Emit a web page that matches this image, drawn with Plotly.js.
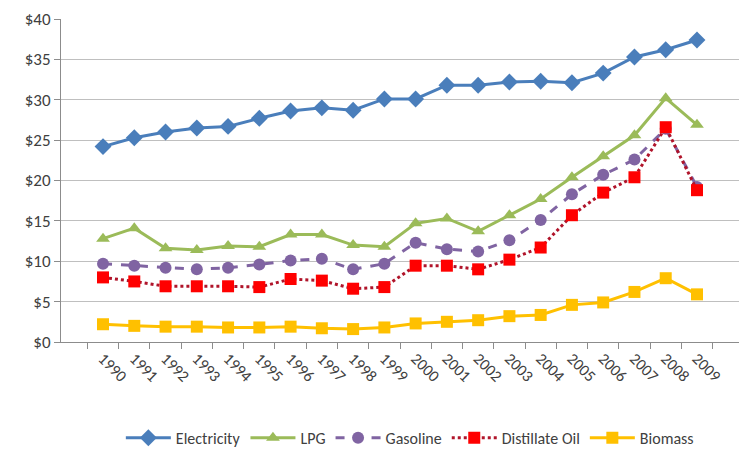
<!DOCTYPE html>
<html>
<head>
<meta charset="utf-8">
<script src="https://cdn.plot.ly/plotly-3.0.1.min.js"></script>
<style>html,body{margin:0;padding:0;background:#fff;}#chart{width:752px;height:455px;}</style>
</head>
<body>
<div id="chart"></div>
<script>
var years = ["1990","1991","1992","1993","1994","1995","1996","1997","1998","1999","2000","2001","2002","2003","2004","2005","2006","2007","2008","2009"];
var electricity = [24.2,25.3,26.0,26.5,26.7,27.7,28.6,29.0,28.7,30.1,30.1,31.8,31.8,32.2,32.3,32.1,33.3,35.3,36.2,37.4];
var lpg = [12.8,14.1,11.6,11.4,11.9,11.8,13.3,13.3,12.0,11.8,14.7,15.3,13.7,15.7,17.7,20.4,23.0,25.6,30.2,26.9];
var gasoline = [9.7,9.45,9.2,9.0,9.2,9.6,10.1,10.3,9.0,9.7,12.3,11.5,11.2,12.6,15.1,18.3,20.7,22.6,26.4,19.2];
var distillate = [8.0,7.5,6.9,6.9,6.9,6.8,7.8,7.6,6.6,6.8,9.45,9.45,9.0,10.2,11.7,15.7,18.5,20.4,26.6,18.8];
var biomass = [2.2,2.0,1.9,1.9,1.8,1.8,1.9,1.7,1.6,1.8,2.3,2.5,2.7,3.2,3.35,4.6,4.9,6.2,7.9,5.9];
var yTicks = [0,5,10,15,20,25,30,35,40];
var yTickText = ["$0","$5","$10","$15","$20","$25","$30","$35","$40"];

var fontFam = "Carlito, 'Liberation Sans Narrow', Lato, sans-serif";

var traces = [
  {name:"Electricity", x:years, y:electricity, mode:"lines+markers",
   line:{color:"#4A7EBB", width:3}, marker:{symbol:"diamond", size:13, color:"#4A7EBB"}},
  {name:"LPG", x:years, y:lpg, mode:"lines+markers",
   line:{color:"#9BBB59", width:3}, marker:{symbol:"triangle-up", size:12, color:"#9BBB59"}},
  {name:"Gasoline", x:years, y:gasoline, mode:"lines+markers",
   line:{color:"#8064A2", width:3, dash:"dash"}, marker:{symbol:"circle", size:12, color:"#8064A2"}},
  {name:"Distillate Oil", x:years, y:distillate, mode:"lines+markers",
   line:{color:"#B0142A", width:3, dash:"dot"}, marker:{symbol:"square", size:12, color:"#FF0000"}},
  {name:"Biomass", x:years, y:biomass, mode:"lines+markers",
   line:{color:"#FFC000", width:3}, marker:{symbol:"square", size:12, color:"#FFC000"}}
];

var layout = {
  width:752, height:455,
  margin:{l:61, r:13, t:19, b:113, autoexpand:false},
  paper_bgcolor:"#fff", plot_bgcolor:"#fff",
  font:{family:fontFam, size:15, color:"#404040"},
  showlegend:true,
  legend:{orientation:"h", xref:"container", x:0.545, xanchor:"center", yref:"container", y:0.075, yanchor:"top",
          itemwidth:45, font:{family:fontFam, size:16, color:"#404040"}, tracegroupgap:0},
  xaxis:{type:"category", tickangle:45, tickson:"boundaries", ticks:"outside", ticklen:6,
         tickcolor:"#8c8c8c", showline:true, linecolor:"#8c8c8c", linewidth:1,
         showgrid:false, zeroline:false, automargin:false, tickfont:{family:fontFam, size:16, color:"#404040"}},
  yaxis:{range:[0,40], tickvals:yTicks, ticktext:yTickText, ticks:"outside", ticklen:6,
         tickcolor:"#8c8c8c", showline:true, linecolor:"#8c8c8c", linewidth:1,
         showgrid:true, gridcolor:"#bfbfbf", gridwidth:1, zeroline:false, automargin:false,
         tickfont:{family:fontFam, size:17, color:"#404040"}}
};

Plotly.newPlot("chart", traces, layout, {displayModeBar:false, staticPlot:true});
</script>
</body>
</html>
